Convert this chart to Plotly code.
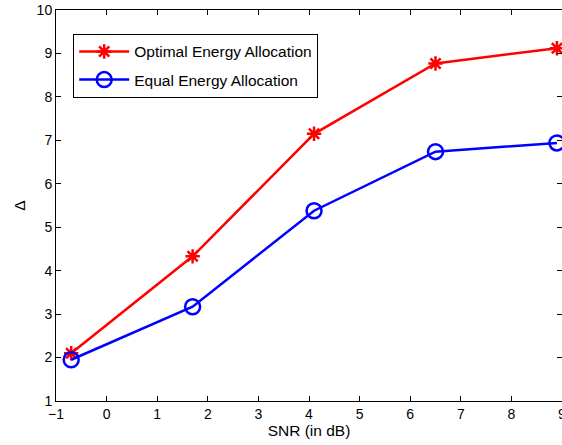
import plotly.graph_objects as go

snr = [-0.7, 1.7, 4.1, 6.5, 8.9]
optimal = [2.1, 4.33, 7.15, 8.77, 9.12]
equal = [1.95, 3.17, 5.38, 6.74, 6.94]

x_ticks = list(range(-1, 10))
y_ticks = list(range(1, 11))

fig = go.Figure()
fig.add_trace(go.Scatter(
    x=snr, y=optimal, mode="lines+markers", name="Optimal Energy Allocation",
    legendgroup="opt",
    line=dict(color="#ff0000", width=2.5),
    marker=dict(symbol="asterisk-open", size=12, color="#ff0000",
                line=dict(color="#ff0000", width=2.5)),
))
fig.add_trace(go.Scatter(
    x=snr, y=equal, mode="lines+markers", name="Equal Energy Allocation",
    legendgroup="eq",
    line=dict(color="#0000ff", width=2.5),
    marker=dict(symbol="circle-open", size=15, color="#0000ff",
                line=dict(color="#0000ff", width=2.5)),
))

axis_common = dict(
    showgrid=False, zeroline=False, showline=True, linecolor="black",
    linewidth=1, mirror="ticks", ticks="inside", ticklen=5, tickcolor="black",
    ticklabeloverflow="allow", automargin=False,
    tickfont=dict(family="Liberation Sans, Arial, sans-serif", size=14, color="black"),
)

fig.update_layout(
    width=562, height=445,
    margin=dict(l=56, r=0, t=10, b=44),
    paper_bgcolor="white", plot_bgcolor="white",
    font=dict(family="Liberation Sans, Arial, sans-serif", size=13, color="black"),
    xaxis=dict(range=[-1, 9], tickvals=x_ticks,
               title=dict(text="SNR (in dB)", standoff=2, font=dict(size=15.5)),
               **axis_common),
    yaxis=dict(range=[1, 10], tickvals=y_ticks,
               title=dict(text="Δ", standoff=7, font=dict(size=15.5)),
               **axis_common),
    legend=dict(x=0.034, y=0.939, xanchor="left", yanchor="top",
                bgcolor="white", bordercolor="black", borderwidth=1,
                traceorder="grouped", tracegroupgap=5, itemwidth=50,
                font=dict(size=15.5)),
)

fig.write_html("out.html")
